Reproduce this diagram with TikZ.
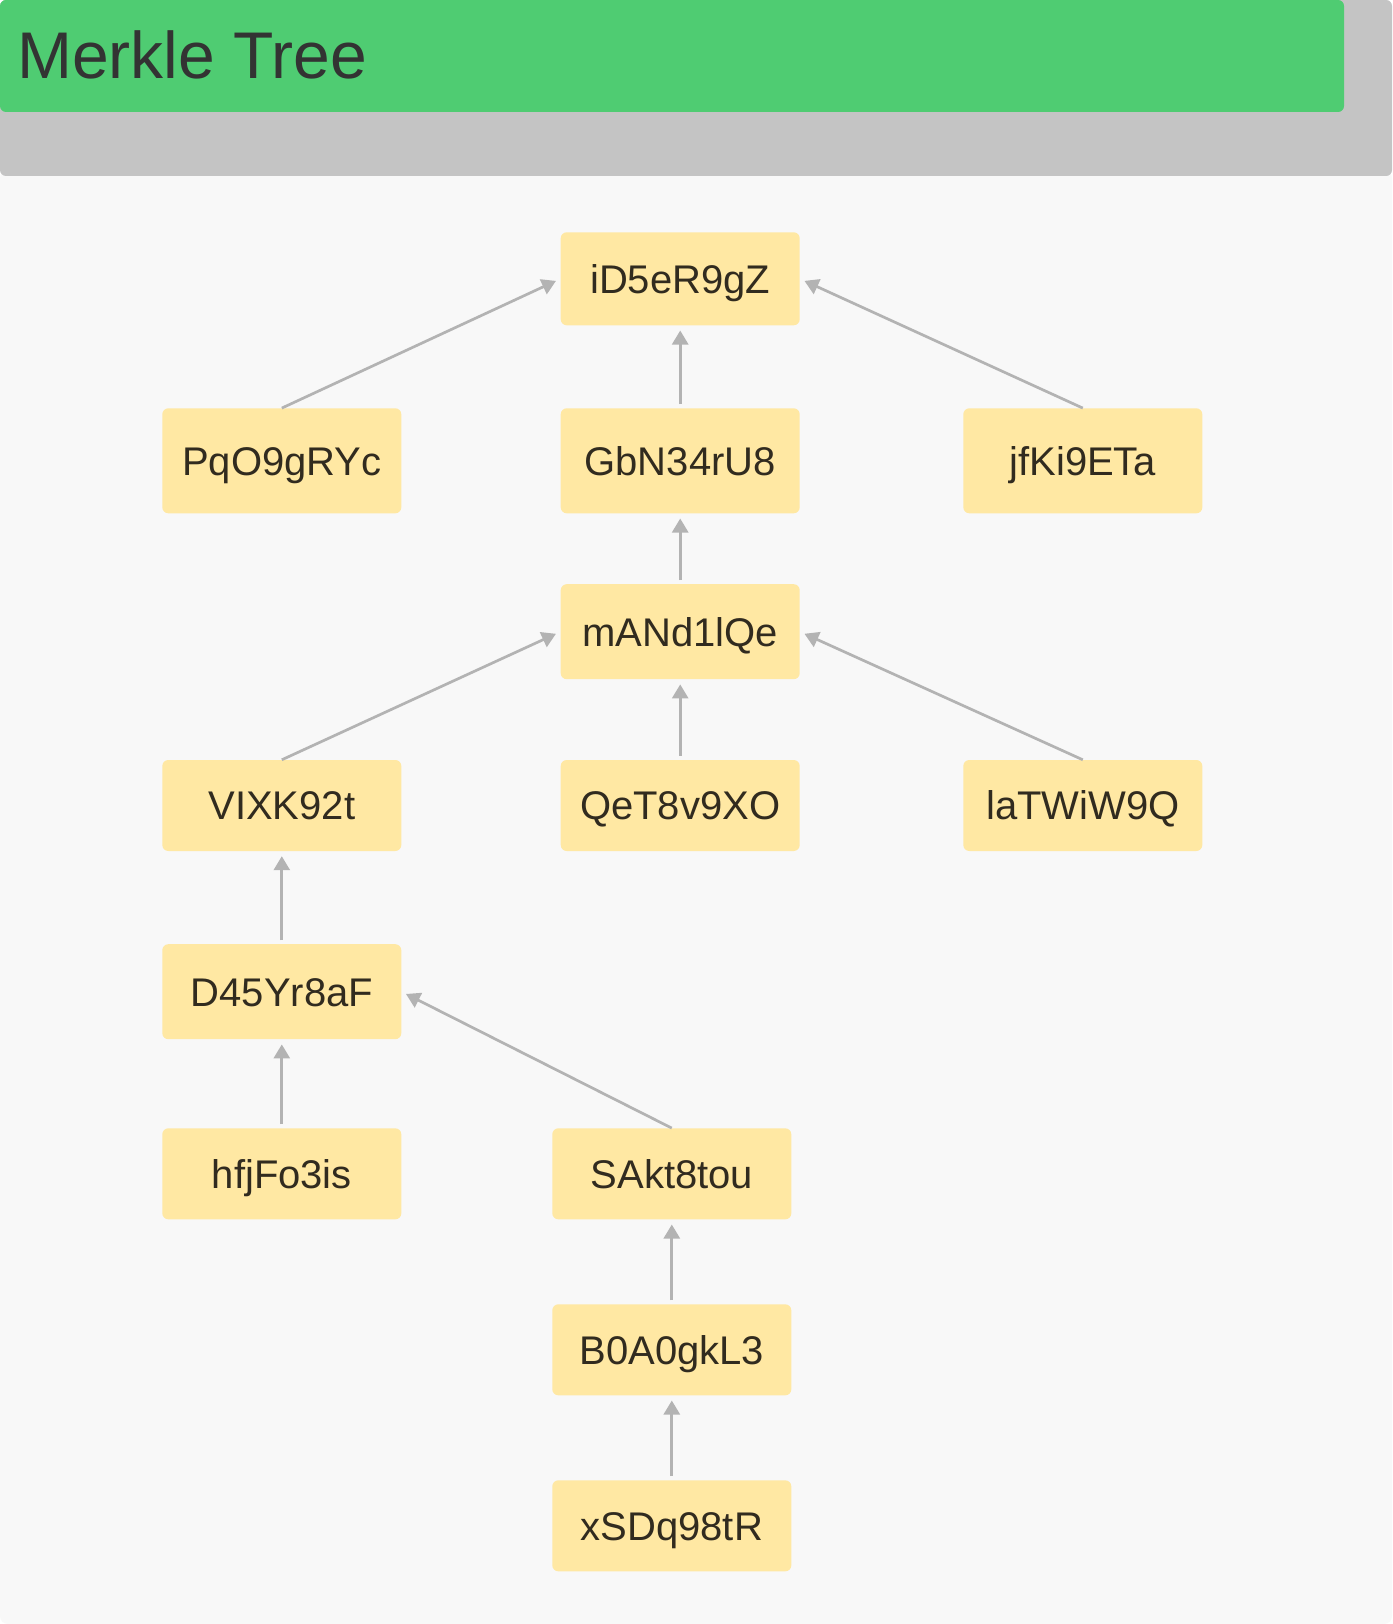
\documentclass[tikz,border=0pt]{standalone}
\usepackage{fontspec}
\setmainfont{Liberation Sans}
\usetikzlibrary{arrows.meta}
\definecolor{bgcol}{HTML}{F8F8F8}
\definecolor{bandcol}{HTML}{C4C4C4}
\definecolor{titlecol}{HTML}{4FCC72}
\definecolor{titletext}{HTML}{333333}
\definecolor{nodefill}{HTML}{FFE8A3}
\definecolor{nodetext}{HTML}{312B1F}
\definecolor{edgecol}{HTML}{B3B3B3}
\tikzset{
  hashbox/.style={fill=nodefill, rounded corners=6pt, minimum width=239pt,
    inner sep=0pt, text height=28.6pt, text depth=0pt,
    font=\fontsize{40}{40}\selectfont, text=nodetext},
  arr/.style={draw=edgecol, line width=2.7pt,
    -{Triangle[width=16pt,length=14pt]}, shorten >=5pt},
  varr/.style={arr, shorten <=4pt}
}
\begin{document}
\begin{tikzpicture}[x=1pt,y=-1pt]
\useasboundingbox (0,0) rectangle (1392,1624);
\fill[white] (0,0) rectangle (1392,1624);
\fill[bgcol, rounded corners=8pt] (0,170) rectangle (1392,1624);
\fill[bandcol, rounded corners=6pt] (0,0) rectangle (1392,176);
\fill[titlecol, rounded corners=6pt] (0,0) rectangle (1344,112);
\node[anchor=base west, inner sep=0pt, text=titletext, font=\fontsize{66}{66}\selectfont] (title) at (17,79) {Merkle Tree};

% nodes
\node[hashbox, minimum height=93pt]  (root) at (680.2,278.8) {iD5eR9gZ};
\node[hashbox, minimum height=105pt] (p1)   at (281.8,460.8) {PqO9gRYc};
\node[hashbox, minimum height=105pt] (g1)   at (680.2,460.8) {GbN34rU8};
\node[hashbox, minimum height=105pt] (j1)   at (1082.8,460.8) {jfKi9ETa};
\node[hashbox, minimum height=95pt]  (m1)   at (680.2,631.7) {mANd1lQe};
\node[hashbox, minimum height=91pt]  (v1)   at (281.8,805.5) {VIXK92t};
\node[hashbox, minimum height=91pt]  (q1)   at (680.2,805.5) {QeT8v9XO};
\node[hashbox, minimum height=91pt]  (l1)   at (1082.8,805.5) {laTWiW9Q};
\node[hashbox, minimum height=95pt]  (d1)   at (281.8,991.7) {D45Yr8aF};
\node[hashbox, minimum height=91pt]  (h1)   at (281.8,1173.8) {hfjFo3is};
\node[hashbox, minimum height=91pt]  (s1)   at (671.8,1173.8) {SAkt8tou};
\node[hashbox, minimum height=91pt]  (b1)   at (671.8,1349.8) {B0A0gkL3};
\node[hashbox, minimum height=91pt]  (x1)   at (671.8,1525.8) {xSDq98tR};

% connectors
\draw[arr]  (p1.north) -- (root.west);
\draw[varr] (g1.north) -- (root.south);
\draw[arr]  (j1.north) -- (root.east);
\draw[varr] (m1.north) -- (g1.south);
\draw[arr]  (v1.north) -- (m1.west);
\draw[varr] (q1.north) -- (m1.south);
\draw[arr]  (l1.north) -- (m1.east);
\draw[varr] (d1.north) -- (v1.south);
\draw[varr] (h1.north) -- (d1.south);
\draw[arr]  (s1.north) -- (d1.east);
\draw[varr] (b1.north) -- (s1.south);
\draw[varr] (x1.north) -- (b1.south);
\end{tikzpicture}
\end{document}
